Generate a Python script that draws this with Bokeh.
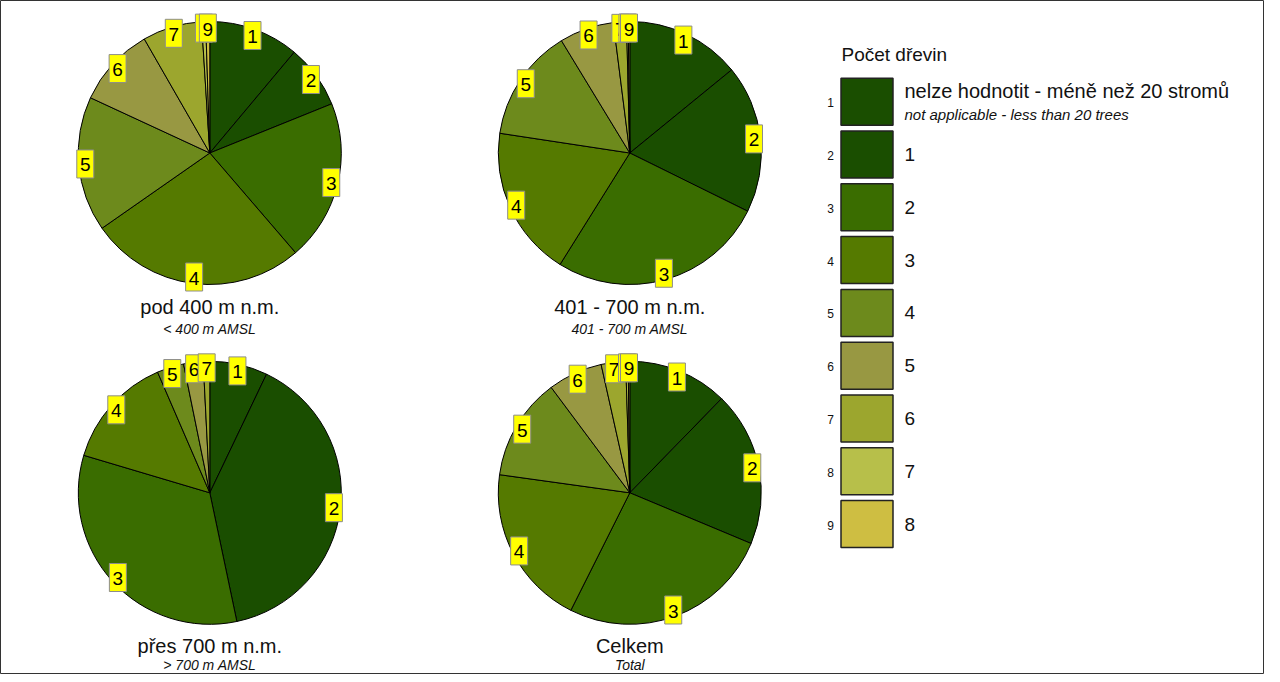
import numpy as np
from bokeh.plotting import figure
from bokeh.models import Range1d
from bokeh.embed import file_html
from bokeh.resources import INLINE
from bokeh.core.properties import value

# ---------------- data ----------------
classes = ["1", "2", "3", "4", "5", "6", "7", "8", "9"]
legend_labels = ["nelze hodnotit - méně než 20 stromů", "1", "2", "3", "4", "5", "6", "7", "8"]
legend_sub = "not applicable - less than 20 trees"
legend_title = "Počet dřevin"
colors = ["#1A4E00", "#1A4E00", "#3A6D00", "#557A00", "#6D8A1C",
          "#989842", "#9CA62E", "#B7BF4A", "#CEBE42"]

pie_titles = ["pod 400 m n.m.", "401 - 700 m n.m.", "přes 700 m n.m.", "Celkem"]
pie_subtitles = ["< 400 m AMSL", "401 - 700 m AMSL", "> 700 m AMSL", "Total"]

share_below_400 = [11.1, 7.8, 19.8, 26.6, 16.6, 9.8, 7.3, 0.5, 0.5]
share_401_700 = [14.1, 18.2, 26.6, 18.5, 13.9, 6.7, 1.6, 0.2, 0.2]
share_above_700 = [7.1, 39.6, 32.9, 13.9, 3.3, 2.4, 0.8, 0.0, 0.0]
share_total = [12.3, 19.0, 26.1, 19.8, 12.6, 6.7, 3.0, 0.3, 0.2]
pies = [share_below_400, share_401_700, share_above_700, share_total]

# ---------------- layout ----------------
W, H = 1264, 674
FONT = value("Liberation Sans")


def X(sx):
    return sx - 8


def Y(sy):
    return H - (sy - 8)


p = figure(width=W, height=H, x_range=Range1d(0, W), y_range=Range1d(0, H),
           output_backend="svg", toolbar_location=None,
           x_axis_type=None, y_axis_type=None, min_border=0)
p.outline_line_color = "#333333"
p.outline_line_width = 1
p.background_fill_color = "white"
p.border_fill_color = "white"

centers = [(217.3, 160.5), (637.3, 160.5), (217.3, 500.3), (637.3, 500.3)]
title_y = [314, 314, 653, 653]
sub_y = [336.5, 336.5, 672, 672]
R = 131.5
LR = 125.0

for k, (shares, (csx, csy), title, sub) in enumerate(zip(pies, centers, pie_titles, pie_subtitles)):
    v = np.array(shares, dtype=float)
    v = v / v.sum() * 360.0
    ends = np.cumsum(v)
    starts = ends - v
    cx, cy = X(csx), Y(csy)
    mask = v > 0
    p.wedge(x=cx, y=cy, radius=R,
            start_angle=np.radians(90 - starts[mask]),
            end_angle=np.radians(90 - ends[mask]),
            direction="clock",
            fill_color=[c for c, m in zip(colors, mask) if m],
            line_color="black", line_width=1)
    for i in range(len(classes)):
        if v[i] <= 0:
            continue
        mid = np.radians((starts[i] + ends[i]) / 2)
        lx = cx + LR * np.sin(mid)
        ly = cy + LR * np.cos(mid)
        p.rect(x=lx, y=ly, width=17, height=28, fill_color="#FFFF00",
               line_color="#8C8C8C", line_width=1)
        p.text(x=lx, y=ly - 1, text=[classes[i]], text_font=FONT,
               text_font_size="19px", text_align="center",
               text_baseline="middle", text_color="black")
    p.text(x=cx, y=Y(title_y[k]), text=[title], text_font=FONT,
           text_font_size="20px", text_align="center",
           text_baseline="middle", text_color="#111111")
    p.text(x=cx, y=Y(sub_y[k]), text=[sub], text_font=FONT,
           text_font_size="14px", text_font_style="italic",
           text_align="center", text_baseline="middle", text_color="#111111")

# ---------------- legend ----------------
p.text(x=X(849), y=Y(62), text=[legend_title], text_font=FONT,
       text_font_size="19px", text_align="left", text_baseline="middle",
       text_color="#111111")

box_cx = 874.5
box_top = 109.2
step = 52.8
for i in range(len(classes)):
    by = box_top + i * step
    p.rect(x=X(box_cx), y=Y(by), width=52, height=47, fill_color=colors[i],
           line_color="#222222", line_width=1.5)
    p.text(x=X(838), y=Y(by + 1), text=[classes[i]], text_font=FONT,
           text_font_size="12px", text_align="center", text_baseline="middle",
           text_color="#111111")
    if i == 0:
        p.text(x=X(912), y=Y(by - 11), text=[legend_labels[i]], text_font=FONT,
               text_font_size="20px", text_align="left", text_baseline="middle",
               text_color="#111111")
        p.text(x=X(912), y=Y(by + 12.5), text=[legend_sub], text_font=FONT,
               text_font_size="15px", text_font_style="italic", text_align="left",
               text_baseline="middle", text_color="#111111")
    else:
        p.text(x=X(912), y=Y(by), text=[legend_labels[i]], text_font=FONT,
               text_font_size="19px", text_align="left", text_baseline="middle",
               text_color="#111111")

open("out.html", "w").write(file_html(p, INLINE))
